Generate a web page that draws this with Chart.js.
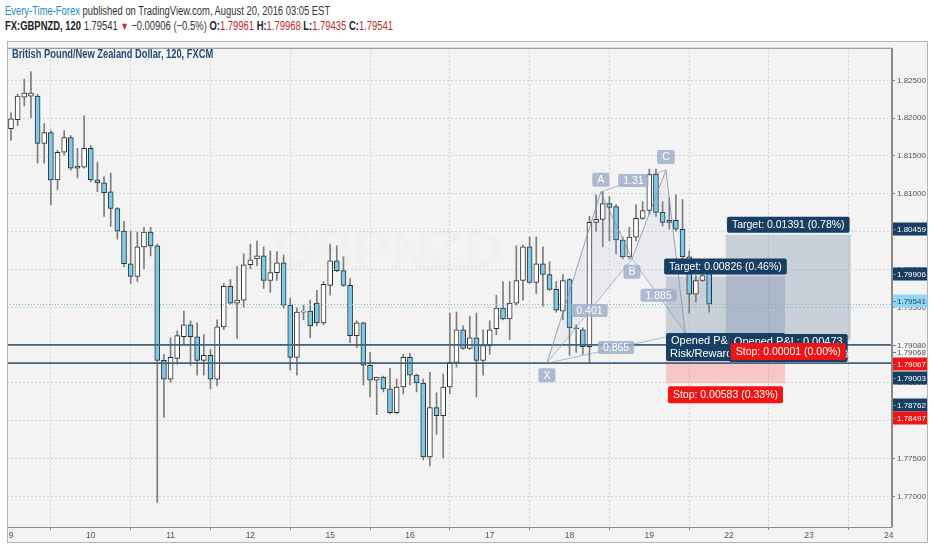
<!DOCTYPE html>
<html>
<head>
<meta charset="utf-8">
<script src="https://cdn.jsdelivr.net/npm/chart.js@4.4.1/dist/chart.umd.min.js"></script>
<style>
  body { margin: 0; background: #fff; width: 932px; height: 550px; overflow: hidden;
         font-family: "Liberation Sans", Arial, sans-serif; }
  #h1, #h2 { position: absolute; left: 5px; white-space: nowrap; color: #333; font-size: 12.5px; transform-origin: 0 50%; }
  #h1 { top: 4px; }
  #h2 { top: 19px; }
  #h1 .pub { color: #1e8ac8; }
  #h2 b { font-weight: bold; color: #222; }
  #h2 .r { color: #c0282d; }
  #h2 .dn { color: #d0282d; font-size: 11px; }
  #frame { position: absolute; left: 7px; top: 41px; width: 921px; height: 502px; }
  #title { position: absolute; left: 12px; top: 47px; font-size: 12.5px; font-weight: bold; color: #1f4d78;
           white-space: nowrap; transform-origin: 0 50%; }
</style>
</head>
<body>
<div id="h1"><span class="pub">Every-Time-Forex</span> published on TradingView.com, August 20, 2016 03:05 EST</div>
<div id="h2"></div>
<div id="frame"><canvas id="c" width="921" height="502" style="width:921px;height:502px"></canvas></div>
<div id="title">British Pound/New Zealand Dollar, 120, FXCM</div>
<script>
// ---- data (120 min candles, GBPNZD) ----
const dayStarts = [1, 13, 25, 37, 49, 61, 73, 85, 97, 109, 121, 133];
const dayLabels = ['9', '10', '11', '12', '15', '16', '17', '18', '19', '22', '23', '24'];
const priceTicks = [1.770, 1.775, 1.780, 1.785, 1.790, 1.795, 1.800, 1.805, 1.810, 1.815, 1.820, 1.825];

const opens = [1.82474, 1.81861, 1.81979, 1.82279, 1.82292, 1.82292, 1.81666, 1.81809, 1.81184, 1.81549,
  1.81744, 1.81366, 1.81353, 1.81601, 1.81184, 1.81145, 1.81027, 1.80806, 1.80506, 1.80076,
  1.79907, 1.80298, 1.80493, 1.80311, 1.78799, 1.78551, 1.78825, 1.79111, 1.79268, 1.79111,
  1.78799, 1.78864, 1.78551, 1.79242, 1.79776, 1.79555, 1.79594, 1.80063, 1.80141, 1.80180,
  1.79854, 1.79959, 1.80089, 1.79529, 1.78838, 1.79437, 1.79450, 1.79555, 1.79294, 1.79789,
  1.80115, 1.79985, 1.79789, 1.79125, 1.79294, 1.78734, 1.78538, 1.78577, 1.78421, 1.78108,
  1.78447, 1.78838, 1.78603, 1.78499, 1.77522, 1.78173, 1.78069, 1.78447, 1.78773, 1.79203,
  1.78955, 1.79098, 1.78799, 1.78994, 1.79216, 1.79489, 1.79346, 1.79555, 1.79854, 1.80298,
  1.79828, 1.80076, 1.79933, 1.79737, 1.79450, 1.79867, 1.79229, 1.79203, 1.78981, 1.80623,
  1.80662, 1.80871, 1.80832, 1.80389, 1.80167, 1.80428, 1.80675, 1.80780, 1.81262, 1.80754,
  1.80649, 1.80649, 1.80532, 1.80167, 1.79672, 1.79854, 1.79961];
const highs = [1.82500, 1.82070, 1.82318, 1.82513, 1.82617, 1.82318, 1.81927, 1.81835, 1.81575, 1.81835,
  1.81770, 1.81601, 1.82031, 1.81640, 1.81418, 1.81223, 1.81275, 1.80819, 1.80636, 1.80506,
  1.80493, 1.80558, 1.80558, 1.80337, 1.78877, 1.79098, 1.79190, 1.79450, 1.79320, 1.79294,
  1.79138, 1.78942, 1.79333, 1.79815, 1.79867, 1.80037, 1.80206, 1.80337, 1.80376, 1.80298,
  1.80245, 1.80232, 1.80193, 1.79620, 1.79489, 1.79529, 1.79594, 1.79724, 1.79841, 1.80337,
  1.80311, 1.80167, 1.79880, 1.79320, 1.79307, 1.78903, 1.78577, 1.78590, 1.78694, 1.78551,
  1.78877, 1.78890, 1.78616, 1.78551, 1.78642, 1.78369, 1.78616, 1.79424, 1.79437, 1.79255,
  1.79385, 1.79424, 1.79203, 1.79320, 1.79659, 1.79841, 1.79841, 1.80311, 1.80324, 1.80428,
  1.80428, 1.80298, 1.80102, 1.79841, 1.79933, 1.79880, 1.79268, 1.79229, 1.80702, 1.80988,
  1.81027, 1.80962, 1.80858, 1.80428, 1.80558, 1.80858, 1.80897, 1.81327, 1.81327, 1.80897,
  1.80949, 1.80988, 1.80923, 1.80245, 1.79920, 1.79933, 1.79968];
const lows = [1.81835, 1.81705, 1.81901, 1.82161, 1.82005, 1.81405, 1.81405, 1.80858, 1.81053, 1.81510,
  1.81314, 1.81210, 1.81340, 1.81158, 1.81027, 1.80702, 1.80571, 1.80402, 1.80037, 1.79815,
  1.79841, 1.80011, 1.80180, 1.76922, 1.78043, 1.78512, 1.78747, 1.79007, 1.78734, 1.78603,
  1.78603, 1.78421, 1.78460, 1.79203, 1.79542, 1.79085, 1.79503, 1.80011, 1.80050, 1.79750,
  1.79698, 1.79854, 1.79489, 1.78668, 1.78603, 1.79333, 1.79098, 1.79255, 1.79268, 1.79659,
  1.79972, 1.79776, 1.79033, 1.78968, 1.78473, 1.78317, 1.78082, 1.78382, 1.78095, 1.78095,
  1.78356, 1.78473, 1.78382, 1.77482, 1.77404, 1.77821, 1.77508, 1.78356, 1.78707, 1.78942,
  1.78942, 1.78317, 1.78603, 1.78877, 1.79138, 1.79333, 1.79072, 1.79529, 1.79594, 1.79815,
  1.79685, 1.79516, 1.79724, 1.79437, 1.79333, 1.78864, 1.78903, 1.78877, 1.78760, 1.80506,
  1.80298, 1.80376, 1.80206, 1.80141, 1.80141, 1.80376, 1.80662, 1.80728, 1.80702, 1.80571,
  1.80532, 1.80506, 1.80141, 1.79424, 1.79568, 1.79841, 1.79435];
const closes = [1.81861, 1.81992, 1.82292, 1.82331, 1.82331, 1.81666, 1.81809, 1.81184, 1.81549, 1.81744,
  1.81340, 1.81340, 1.81601, 1.81184, 1.81145, 1.81014, 1.80806, 1.80506, 1.80076, 1.79907,
  1.80298, 1.80493, 1.80311, 1.78799, 1.78551, 1.78838, 1.79125, 1.79268, 1.79111, 1.78799,
  1.78864, 1.78551, 1.79242, 1.79776, 1.79555, 1.79594, 1.80063, 1.80128, 1.80180, 1.79854,
  1.79959, 1.80089, 1.79529, 1.78838, 1.79437, 1.79450, 1.79255, 1.79294, 1.79802, 1.80115,
  1.79985, 1.79789, 1.79125, 1.79294, 1.78734, 1.78538, 1.78577, 1.78421, 1.78108, 1.78447,
  1.78838, 1.78603, 1.78499, 1.77522, 1.78173, 1.78069, 1.78447, 1.78773, 1.79203, 1.78955,
  1.79098, 1.78799, 1.78994, 1.79203, 1.79489, 1.79346, 1.79555, 1.79854, 1.80298, 1.79828,
  1.80076, 1.79933, 1.79737, 1.79463, 1.79854, 1.79229, 1.79216, 1.78981, 1.80623, 1.80662,
  1.80871, 1.80819, 1.80389, 1.80167, 1.80428, 1.80675, 1.80780, 1.81262, 1.80754, 1.80623,
  1.80623, 1.80532, 1.80167, 1.79672, 1.79854, 1.79920, 1.79541];

// horizontal lines drawn by the author
const hLines = [1.79003, 1.78762];

// XABCD pattern points
const patNames = ['X', 'A', 'B', 'C', 'D'];
const patIdx = [81.6, 89.7, 94.4, 99.5, 102.4];
const patPrice = [1.78760, 1.81027, 1.80141, 1.81314, 1.79164];
const patRatios = ['0.401', '1.31', '1.885', '0.865'];

// long positions
const posStart = [99.5, 108.5];
const posEnd = [117.4, 127.3];
const posEntry = [1.79080, 1.79068];
const posTarget = [1.79906, 1.80459];
const posStop = [1.78497, 1.79067];

// price tags on the right axis
const tagValues = [1.80459, 1.79906, 1.79541, 1.79080, 1.79068, 1.79067, 1.79003, 1.78762, 1.78497];

// ---- header ----
const last = closes.length - 1;
document.getElementById('h2').innerHTML =
  '<b>FX:GBPNZD, 120</b> ' + closes[last].toFixed(5) + ' <span class="dn">&#9660;</span> \u22120.00906 (\u22120.5%) ' +
  '<b>O:</b><span class="r">' + opens[last].toFixed(5) + '</span> ' +
  '<b>H:</b><span class="r">' + highs[last].toFixed(5) + '</span> ' +
  '<b>L:</b><span class="r">' + lows[last].toFixed(5) + '</span> ' +
  '<b>C:</b><span class="r">' + closes[last].toFixed(5) + '</span>';

// squeeze the header lines to the narrow width of the original font
[['h1', 325], ['h2', 388], ['title', 201]].forEach(([id, w]) => {
  const el = document.getElementById(id);
  el.style.transform = 'scaleX(' + (w / el.offsetWidth) + ')';
});

// ---- candles as floating bars ----
const wickData = highs.map((h, i) => ({ x: i, y: [lows[i], h] }));
const bodyData = opens.map((o, i) => ({ x: i, y: [Math.min(o, closes[i]), Math.max(o, closes[i])] }));
const bodyColors = opens.map((o, i) => closes[i] >= o ? '#ffffff' : '#7ccaeb');

function box(ctx, x, y, w, h, r, fill) {
  ctx.fillStyle = fill;
  ctx.beginPath();
  if (ctx.roundRect) ctx.roundRect(x, y, w, h, r); else ctx.rect(x, y, w, h);
  ctx.fill();
}

function label(ctx, text, cx, top, bg, fg, h) {
  ctx.font = '10.5px "Liberation Sans", sans-serif';
  const w = ctx.measureText(text).width + 10;
  box(ctx, cx - w / 2, top, w, h, 2, bg);
  ctx.fillStyle = fg;
  ctx.textAlign = 'center';
  ctx.textBaseline = 'middle';
  ctx.fillText(text, cx, top + h / 2 + 0.5);
}

const drawings = {
  id: 'drawings',
  beforeDraw(chart) {
    const ctx = chart.ctx;
    ctx.save();
    ctx.fillStyle = '#f3f3f3';
    ctx.fillRect(0, 0, chart.width, chart.height);
    ctx.restore();
  },
  beforeDatasetsDraw(chart) {
    const { ctx, chartArea: a, scales: { x, y } } = chart;
    ctx.save();
    ctx.beginPath(); ctx.rect(a.left, a.top, a.width, a.height); ctx.clip();
    // watermark
    ctx.font = 'bold 54px "Liberation Sans", sans-serif';
    ctx.fillStyle = 'rgba(0,0,0,0.012)';
    ctx.textAlign = 'center'; ctx.textBaseline = 'middle';
    ctx.fillText('GBPNZD', a.left + 380, a.top + 205);
    // position boxes
    for (let k = 0; k < posStart.length; k++) {
      const x0 = x.getPixelForValue(posStart[k]), x1 = x.getPixelForValue(posEnd[k]);
      const ye = y.getPixelForValue(posEntry[k]);
      const yt = y.getPixelForValue(posTarget[k]);
      const ys = y.getPixelForValue(posStop[k]);
      ctx.fillStyle = 'rgba(105,130,160,0.30)';
      ctx.fillRect(x0, yt, x1 - x0, ye - yt);
      ctx.fillStyle = 'rgba(255,110,110,0.33)';
      ctx.fillRect(x0, ye, x1 - x0, ys - ye);
    }
    ctx.restore();
  },
  afterDatasetsDraw(chart) {
    const { ctx, chartArea: a, scales: { x, y } } = chart;
    ctx.save();
    ctx.beginPath(); ctx.rect(a.left, a.top, a.width, a.height); ctx.clip();

    // current price line
    const yc = Math.round(y.getPixelForValue(closes[last])) + 0.5;
    ctx.strokeStyle = '#6cc4ea'; ctx.lineWidth = 1; ctx.setLineDash([1, 2]);
    ctx.beginPath(); ctx.moveTo(a.left, yc); ctx.lineTo(a.right, yc); ctx.stroke();
    ctx.setLineDash([]);

    // horizontal lines
    ctx.strokeStyle = '#46617c'; ctx.lineWidth = 1.6;
    hLines.forEach(v => {
      const yy = y.getPixelForValue(v);
      ctx.beginPath(); ctx.moveTo(a.left, yy); ctx.lineTo(a.right, yy); ctx.stroke();
    });

    // pattern
    const P = patIdx.map((v, i) => [x.getPixelForValue(v), y.getPixelForValue(patPrice[i])]);
    ctx.fillStyle = 'rgba(150,170,200,0.10)';
    [[0, 1, 2], [2, 3, 4]].forEach(t => {
      ctx.beginPath(); ctx.moveTo(...P[t[0]]); ctx.lineTo(...P[t[1]]); ctx.lineTo(...P[t[2]]); ctx.closePath(); ctx.fill();
    });
    ctx.strokeStyle = 'rgba(130,145,170,0.8)'; ctx.lineWidth = 1;
    ctx.beginPath(); ctx.moveTo(...P[0]);
    for (let i = 1; i < P.length; i++) ctx.lineTo(...P[i]);
    ctx.stroke();
    const pairs = [[0, 2], [1, 3], [2, 4], [0, 4]];
    ctx.strokeStyle = 'rgba(130,145,170,0.6)';
    pairs.forEach(([i, j]) => { ctx.beginPath(); ctx.moveTo(...P[i]); ctx.lineTo(...P[j]); ctx.stroke(); });
    const patBg = 'rgba(160,176,202,0.85)';
    pairs.forEach(([i, j], k) => {
      const mx = (P[i][0] + P[j][0]) / 2, my = (P[i][1] + P[j][1]) / 2;
      label(ctx, patRatios[k], mx, my - 7, patBg, '#fff', 13);
    });
    const offs = [5, -19, 6, -20];
    for (let i = 0; i < 4; i++) label(ctx, patNames[i], P[i][0], P[i][1] + offs[i], patBg, '#fff', 14);

    // position labels
    const navy = '#173f63', red = '#f01414';
    for (let k = 0; k < posStart.length; k++) {
      const cx = (x.getPixelForValue(posStart[k]) + x.getPixelForValue(posEnd[k])) / 2;
      const yt = y.getPixelForValue(posTarget[k]);
      const t = posTarget[k] - posEntry[k];
      label(ctx, 'Target: ' + t.toFixed(5) + ' (' + (t / posEntry[k] * 100).toFixed(2) + '%)', cx, yt - 18, navy, '#fff', 16);
    }
    for (let k = 0; k < posStart.length; k++) {
      const cx = (x.getPixelForValue(posStart[k]) + x.getPixelForValue(posEnd[k])) / 2;
      const ye = y.getPixelForValue(posEntry[k]);
      const ys = y.getPixelForValue(posStop[k]);
      const t = posTarget[k] - posEntry[k], s = posEntry[k] - posStop[k];
      const l1 = 'Opened P&L: ' + (closes[last] - posEntry[k]).toFixed(5);
      const l2 = 'Risk/Reward Ratio: ' + (Math.round(t / s * 100) / 100);
      ctx.font = '11px "Liberation Sans", sans-serif';
      const w = ctx.measureText(l1).width + 10;
      ctx.save();
      box(ctx, cx - w / 2, ye - 6, w, 28, 2, navy);
      ctx.clip();
      ctx.fillStyle = '#fff'; ctx.textAlign = 'center'; ctx.textBaseline = 'middle';
      ctx.fillText(l1, cx, ye + 1.5);
      ctx.textAlign = 'left';
      ctx.fillText(l2, cx - w / 2 + 4, ye + 15);
      ctx.restore();
      label(ctx, 'Stop: ' + s.toFixed(5) + ' (' + (s / posEntry[k] * 100).toFixed(2) + '%)', cx, ys + 3, red, '#fff', 17);
    }
    ctx.restore();
  },
  afterDraw(chart) {
    const { ctx, chartArea: a } = chart;
    ctx.save();
    // frame
    ctx.strokeStyle = '#8a8a8a'; ctx.lineWidth = 1;
    ctx.strokeRect(a.left + 0.5, a.top + 0.5, a.width - 1, a.height);
    ctx.beginPath(); ctx.moveTo(a.right + 0.5, a.top); ctx.lineTo(a.right + 0.5, a.bottom); ctx.stroke();
    ctx.strokeStyle = '#b5b5b5';
    ctx.strokeRect(0.5, 0.5, chart.width - 1, chart.height - 1);
    // price tags (stacked like the original)
    const tagCenters = [188, 233, 260, 304, 311, 323, 337, 364, 377];
    const styles = [['#173f63', '#fff'], ['#173f63', '#fff'], ['#8fd6f7', '#1b3d5c'], ['#f3f3f3', '#555'], ['#f3f3f3', '#555'],
                    ['#f01414', '#fff'], ['#173f63', '#fff'], ['#173f63', '#fff'], ['#f01414', '#fff']];
    ctx.font = '8px "Liberation Sans", sans-serif';
    ctx.textAlign = 'left'; ctx.textBaseline = 'middle';
    tagValues.forEach((v, i) => {
      const cy = tagCenters[i];
      const h = styles[i][0] === '#f3f3f3' ? 8 : 13;
      ctx.fillStyle = styles[i][0];
      ctx.fillRect(a.right + 1, cy - h / 2, chart.width - a.right - 2, h);
      ctx.fillStyle = styles[i][1];
      ctx.fillText(v.toFixed(5), a.right + 5, cy + 0.5);
      ctx.fillStyle = '#777';
      ctx.fillRect(a.right + 1, cy, 3, 1);
    });
    ctx.restore();
  }
};

new Chart(document.getElementById('c'), {
  type: 'bar',
  data: {
    datasets: [
      { data: wickData, backgroundColor: '#7d7d7d', barThickness: 1, grouped: false, order: 2, borderWidth: 0 },
      { data: bodyData, backgroundColor: bodyColors, borderColor: '#2f2f2f', borderWidth: 1, borderSkipped: false,
        barThickness: 5, grouped: false, order: 1 }
    ]
  },
  options: {
    responsive: false,
    animation: false,
    devicePixelRatio: 1,
    layout: { padding: 0 },
    plugins: { legend: { display: false }, tooltip: { enabled: false } },
    scales: {
      x: {
        type: 'linear', min: 0.4, max: 133.5, offset: false,
        afterBuildTicks: s => { s.ticks = dayStarts.map(v => ({ value: v })); },
        afterFit: s => { s.height = 16; },
        ticks: {
          autoSkip: false, maxRotation: 0, padding: 1, color: '#555',
          font: { family: '"Liberation Sans", sans-serif', size: 8.5 },
          callback: v => dayLabels[dayStarts.indexOf(v)]
        },
        grid: { color: '#d2d2d2', tickColor: '#888', tickLength: 3 },
        border: { display: false, dash: [2, 2] }
      },
      y: {
        type: 'linear', position: 'right', min: 1.76596, max: 1.829301,
        afterBuildTicks: s => { s.ticks = priceTicks.map(v => ({ value: v })); },
        afterFit: s => { s.width = 36; },
        ticks: {
          padding: 2, color: '#555',
          font: { family: '"Liberation Sans", sans-serif', size: 8 },
          callback: v => v.toFixed(5)
        },
        grid: { color: '#d2d2d2', tickColor: '#888', tickLength: 3 },
        border: { display: false, dash: [2, 2] }
      }
    }
  },
  plugins: [drawings]
});
</script>
</body>
</html>
